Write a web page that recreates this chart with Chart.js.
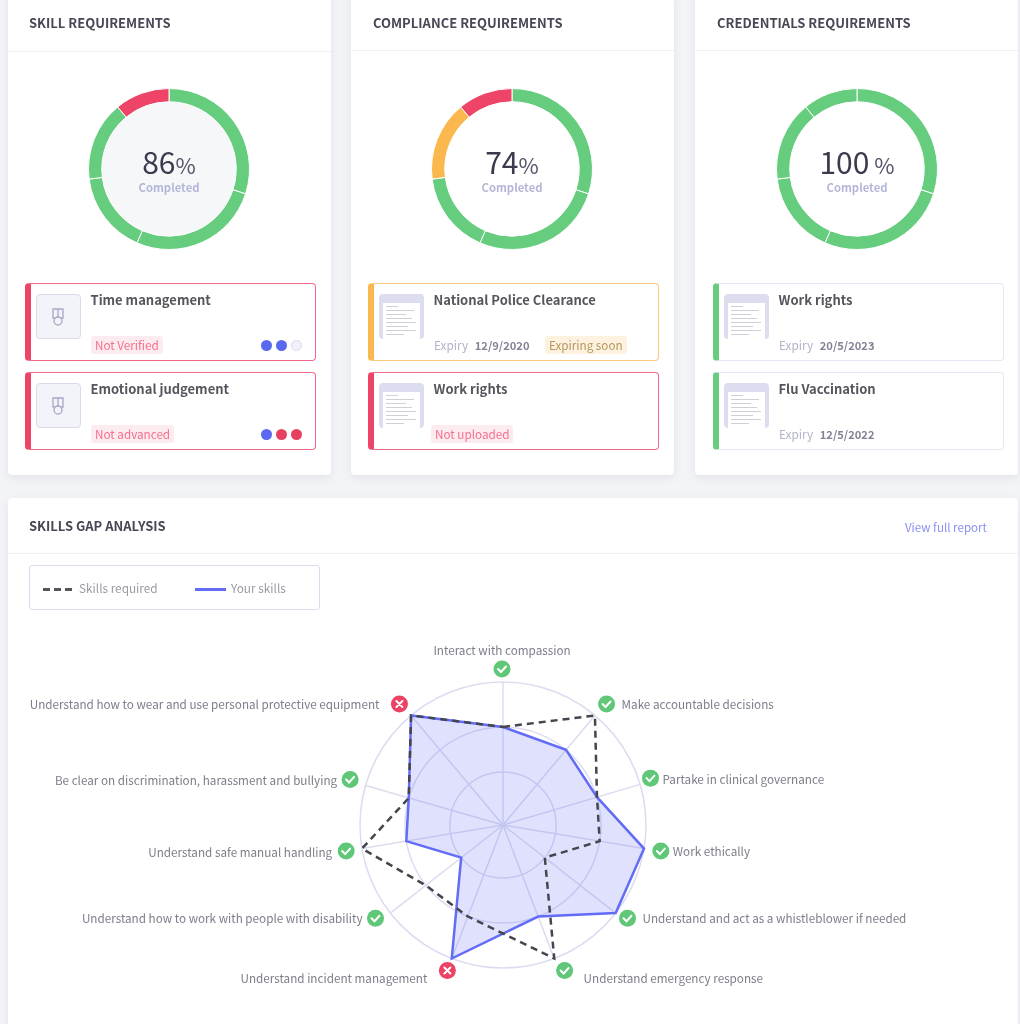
<!DOCTYPE html>
<html>
<head>
<meta charset="utf-8">
<title>Requirements</title>
<script src="https://cdn.jsdelivr.net/npm/chart.js@4"></script>
<style>
    * { box-sizing: border-box; }
    html, body { margin: 0; padding: 0; width: 1020px; height: 1024px; overflow: hidden; background: #f3f4f7; }
    body { font-family: "Noto Sans CJK SC", "Noto Sans", sans-serif; color: #45454f; }
    #page { position: relative; width: 1020px; height: 1024px; filter: blur(0.6px); }

    .card { position: absolute; background: #fff; border-radius: 4px; box-shadow: 0 3px 10px rgba(60, 65, 100, 0.09); }
    .card-title { position: absolute; font-size: 13px; font-weight: 700; color: #474755; line-height: 18px; white-space: nowrap; }
    .card-rule { position: absolute; left: 0; right: 0; height: 1px; background: #eeeef5; }

    .donut-wrap { position: absolute; width: 162px; height: 162px; }
    .donut-wrap canvas { position: absolute; left: 0; top: 0; }
    .donut-face { position: absolute; left: 10px; top: 10px; width: 142px; height: 142px; border-radius: 50%; }
    .donut-value { position: absolute; left: 0; right: 0; top: 55px; text-align: center; line-height: 36px; font-size: 30px; font-weight: 400; color: #3b3b4e; }
    .donut-value span { font-size: 22px; color: #55556a; }
    .donut-label { position: absolute; left: 0; right: 0; top: 91px; text-align: center; line-height: 16px; font-size: 11.3px; font-weight: 700; color: #b4b6d8; }

    .item { position: absolute; width: 291px; height: 78px; background: #fff; border-radius: 4px; border: 1.5px solid; border-left-width: 6px; }
    .item.red { border-color: #f2688a; border-left-color: #ee4468; }
    .item.amber { border-color: #fbc979; border-left-color: #fbb84f; }
    .item.green { border-color: #e6e7f2; border-left-color: #66cc7e; }
    .thumb { position: absolute; left: 5px; top: 10px; width: 45px; height: 45px; border-radius: 4px; background: #f3f4f9; border: 1px solid #d9dbeb; }
    .thumb svg { position: absolute; left: 15px; top: 13px; }
    .doc { background: #dcdeef; border: none; overflow: hidden; }
    .doc .sheet { position: absolute; left: 4px; top: 9px; width: 37px; height: 36px; background: #fff; }
    .doc .sheet i { position: absolute; left: 3px; height: 1px; background: #cfcfd8; }
    .item-title { position: absolute; left: 59.5px; top: 7px; font-size: 13px; font-weight: 700; line-height: 18px; color: #55555d; white-space: nowrap; }
    .badge { position: absolute; top: 52px; height: 18px; padding: 0 4px; border-radius: 3px; font-size: 11.7px; line-height: 18px; white-space: nowrap; }
    .badge.red { background: #fdecef; color: #f56f8d; }
    .badge.amber { background: #fdf2df; color: #b6975f; }
    .expiry { position: absolute; top: 51.5px; left: 60px; font-size: 11.8px; line-height: 18px; color: #b2b3c9; white-space: nowrap; }
    .expiry b { font-size: 11.2px; font-weight: 700; color: #838395; margin-left: 4px; }
    .dot { position: absolute; top: 55.5px; width: 11px; height: 11px; border-radius: 50%; }
    .dot.blue { background: #5a69f0; }
    .dot.red { background: #e8415f; }
    .dot.empty { background: #f1f2f9; border: 1px solid #d9dbeb; }

    .report-link { position: absolute; right: 31px; top: 20px; font-size: 11.6px; line-height: 18px; color: #8a90f2; }
    .legend-box { position: absolute; left: 21px; top: 67px; width: 291px; height: 45px; border: 1px solid #dcdcf0; border-radius: 3px; }
    .legend-text { position: absolute; top: 13px; font-size: 11.8px; line-height: 18px; color: #9a9aa6; }
    .dash { position: absolute; top: 22px; width: 7px; height: 3px; background: #55555d; }
    .solid { position: absolute; top: 22px; left: 165px; width: 31px; height: 3px; background: #636cf5; }
    #gapChart { position: absolute; left: 0; top: 620px; }
</style>
</head>
<body>
<div id="page"></div>
<script>
document.fonts.ready.then(() => {
    const GREEN = '#66cc7e', RED = '#ee4468', AMBER = '#fbb84f';

    // segment sizes are the same on all three rings, only the colours differ
    const ringSegments = [30, 26.5, 16.5, 16, 11];

    const cards = [
        {
            left: 8, titleLeft: 21, ringLeft: 80, itemLeft: 17, title: 'SKILL REQUIREMENTS', percent: '86', face: '#f6f7f9', ruleTop: 51,
            colors: [GREEN, GREEN, GREEN, GREEN, RED],
            items: [
                { tone: 'red', icon: 'medal', title: 'Time management', badge: 'Not Verified', badgeLeft: 60, dots: ['blue', 'blue', 'empty'] },
                { tone: 'red', icon: 'medal', title: 'Emotional judgement', badge: 'Not advanced', badgeLeft: 60, dots: ['blue', 'red', 'red'] }
            ]
        },
        {
            left: 351, titleLeft: 22, ringLeft: 80, itemLeft: 17, title: 'COMPLIANCE REQUIREMENTS', percent: '74', face: '#fff', ruleTop: 50,
            colors: [GREEN, GREEN, GREEN, AMBER, RED],
            items: [
                { tone: 'amber', icon: 'doc', title: 'National Police Clearance', expiry: '12/9/2020', badge: 'Expiring soon', badgeLeft: 171, badgeTone: 'amber' },
                { tone: 'red', icon: 'doc', title: 'Work rights', badge: 'Not uploaded', badgeLeft: 57 }
            ]
        },
        {
            left: 695, titleLeft: 22, ringLeft: 81, itemLeft: 18, title: 'CREDENTIALS REQUIREMENTS', percent: '100', face: '#fff', ruleTop: 50,
            colors: [GREEN, GREEN, GREEN, GREEN, GREEN],
            items: [
                { tone: 'green', icon: 'doc', title: 'Work rights', expiry: '20/5/2023' },
                { tone: 'green', icon: 'doc', title: 'Flu Vaccination', expiry: '12/5/2022' }
            ]
        }
    ];

    const medalIcon = `<svg width="12" height="18" viewBox="0 0 12 18" fill="none" stroke="#a6a8c8" stroke-width="1.3">
        <path d="M1 1h10v9H1zM6 1v9"/><circle cx="6" cy="13" r="4" fill="#f3f4f9"/></svg>`;
    const sheetLines = [[3, 12], [7, 28], [11, 20], [15, 26], [19, 30], [23, 22], [27, 30], [31, 18]]
        .map(([top, width]) => `<i style="top:${top}px;width:${width}px"></i>`).join('');
    const docIcon = `<div class="sheet">${sheetLines}</div>`;

    function itemHtml(item, left, top) {
        const thumb = item.icon === 'medal'
            ? `<div class="thumb">${medalIcon}</div>`
            : `<div class="thumb doc">${docIcon}</div>`;
        const expiry = item.expiry ? `<div class="expiry">Expiry <b>${item.expiry}</b></div>` : '';
        const badge = item.badge
            ? `<div class="badge ${item.badgeTone || 'red'}" style="left:${item.badgeLeft}px">${item.badge}</div>` : '';
        const dots = (item.dots || []).map((kind, i) =>
            `<div class="dot ${kind}" style="left:${230 + i * 15}px"></div>`).join('');
        return `<div class="item ${item.tone}" style="left:${left}px;top:${top}px">${thumb}
            <div class="item-title">${item.title}</div>${expiry}${badge}${dots}</div>`;
    }

    const page = document.getElementById('page');
    page.innerHTML = cards.map((card, i) => `
        <div class="card" style="left:${card.left}px;top:-10px;width:323px;height:485px">
            <div style="position:absolute;left:0;top:10px;right:0;bottom:0">
                <div class="card-title" style="top:14px;left:${card.titleLeft}px">${card.title}</div>
                <div class="card-rule" style="top:${card.ruleTop}px"></div>
                <div class="donut-wrap" style="left:${card.ringLeft}px;top:87.5px">
                    <div class="donut-face" style="background:${card.face}"></div>
                    <canvas id="ring${i}" width="162" height="162"></canvas>
                    <div class="donut-value">${card.percent}<span>${card.percent === '100' ? ' ' : ''}%</span></div>
                    <div class="donut-label">Completed</div>
                </div>
                ${itemHtml(card.items[0], card.itemLeft, 283)}
                ${itemHtml(card.items[1], card.itemLeft, 372)}
            </div>
        </div>`).join('') + `
        <div class="card" style="left:8px;top:498px;width:1010px;height:560px">
            <div class="card-title" style="top:19px;left:21px">SKILLS GAP ANALYSIS</div>
            <div class="report-link">View full report</div>
            <div class="card-rule" style="top:55px"></div>
            <div class="legend-box">
                <div class="dash" style="left:13px"></div><div class="dash" style="left:24px"></div><div class="dash" style="left:35px"></div>
                <div class="legend-text" style="left:49px">Skills required</div>
                <div class="solid"></div>
                <div class="legend-text" style="left:201px">Your skills</div>
            </div>
        </div>
        <canvas id="gapChart" width="1020" height="404"></canvas>`;

    cards.forEach((card, i) => {
        new Chart(document.getElementById(`ring${i}`), {
            type: 'doughnut',
            data: {
                labels: ringSegments.map((_, n) => `Part ${n + 1}`),
                datasets: [{ data: ringSegments, backgroundColor: card.colors, borderColor: '#fff', borderWidth: 1 }]
            },
            options: {
                responsive: false,
                animation: false,
                cutout: '83.5%',
                plugins: { legend: { display: false }, tooltip: { enabled: false } }
            }
        });
    });

    // --- Skills gap radar ---
    // The spokes in the original are not evenly spaced
    const spokeDegrees = [0, 40, 73.5, 99.5, 128, 159, 201, 232, 260.5, 286, 320];
    Chart.RadialLinearScale.prototype.getIndexAngle = function (index) {
        return spokeDegrees[index] * Math.PI / 180;
    };

    // nudge moves the status icon off its spoke, dx/dy place the label relative to the icon
    const skills = [
        { label: 'Interact with compassion', ok: true, align: 'center', nudge: [-1, 2], dx: 0, dy: -18, required: 2, yours: 2 },
        { label: 'Make accountable decisions', ok: true, align: 'left', nudge: [2, 0], dx: 15, dy: 1, required: 3, yours: 2 },
        { label: 'Partake in clinical governance', ok: true, align: 'left', nudge: [-4, -2], dx: 12, dy: 1, required: 2, yours: 2 },
        { label: 'Work ethically', ok: true, align: 'left', nudge: [2, 0], dx: 12, dy: 0, required: 2, yours: 3 },
        { label: 'Understand and act as a whistleblower if needed', ok: true, align: 'left', nudge: [0, -4], dx: 15, dy: 0, required: 1, yours: 3 },
        { label: 'Understand emergency response', ok: true, align: 'left', nudge: [5, -2], dx: 19, dy: 8, required: 3, yours: 2 },
        { label: 'Understand incident management', ok: false, align: 'right', nudge: [1, -2], dx: -20, dy: 8, required: 2, yours: 3 },
        { label: 'Understand how to work with people with disability', ok: true, align: 'right', nudge: [-3, -4], dx: -13, dy: 0, required: 2, yours: 1 },
        { label: 'Understand safe manual handling', ok: true, align: 'right', nudge: [-1, 0], dx: -14, dy: 1, required: 3, yours: 2 },
        { label: 'Be clear on discrimination, harassment and bullying', ok: true, align: 'right', nudge: [-1, -2], dx: -13, dy: 1, required: 2, yours: 2 },
        { label: 'Understand how to wear and use personal protective equipment', ok: false, align: 'right', nudge: [-2, 0], dx: -20, dy: 1, required: 3, yours: 3 }
    ];

    const skillMarkers = {
        id: 'skillMarkers',
        afterDraw(chart) {
            const { ctx } = chart;
            const scale = chart.scales.r;
            skills.forEach((skill, i) => {
                const spoke = scale.getPointPosition(i, 158);
                const x = spoke.x + skill.nudge[0], y = spoke.y + skill.nudge[1];
                ctx.save();
                ctx.beginPath();
                ctx.arc(x, y, 8.5, 0, Math.PI * 2);
                ctx.fillStyle = skill.ok ? '#5fc777' : '#ec4263';
                ctx.fill();
                ctx.strokeStyle = '#fff';
                ctx.lineWidth = 2;
                ctx.lineCap = 'round';
                ctx.beginPath();
                if (skill.ok) {
                    ctx.moveTo(x - 4, y);
                    ctx.lineTo(x - 1, y + 3);
                    ctx.lineTo(x + 4, y - 2.5);
                } else {
                    ctx.moveTo(x - 3, y - 3);
                    ctx.lineTo(x + 3, y + 3);
                    ctx.moveTo(x + 3, y - 3);
                    ctx.lineTo(x - 3, y + 3);
                }
                ctx.stroke();
                ctx.font = '11.7px "Noto Sans CJK SC", "Noto Sans", sans-serif';
                ctx.fillStyle = '#7d7d8b';
                ctx.textAlign = skill.align;
                ctx.textBaseline = 'middle';
                ctx.fillText(skill.label, x + skill.dx, y + skill.dy);
                ctx.restore();
            });
        }
    };

    new Chart(document.getElementById('gapChart'), {
        type: 'radar',
        data: {
            labels: skills.map(s => s.label),
            datasets: [
                {
                    label: 'Skills required',
                    data: skills.map(s => s.required),
                    borderColor: '#45454d',
                    borderWidth: 2.5,
                    borderDash: [7, 5],
                    backgroundColor: 'transparent',
                    fill: false,
                    clip: false,
                    pointRadius: 0,
                    tension: 0
                },
                {
                    label: 'Your skills',
                    data: skills.map(s => s.yours),
                    borderColor: '#636cf5',
                    borderWidth: 2.5,
                    backgroundColor: 'rgba(99, 108, 245, 0.2)',
                    fill: 'start',
                    clip: false,
                    pointRadius: 0,
                    tension: 0
                }
            ]
        },
        options: {
            responsive: false,
            animation: false,
            layout: { padding: { top: 62, bottom: 56, left: 0, right: 14 } },
            plugins: { legend: { display: false }, tooltip: { enabled: false } },
            scales: {
                r: {
                    min: -0.18,
                    max: 3,
                    afterBuildTicks(scale) {
                        scale.ticks = [-0.18, 1, 2, 3].map(value => ({ value }));
                    },
                    ticks: { display: false },
                    pointLabels: { display: false },
                    grid: { circular: true, color: '#dcdcf0', lineWidth: 1.5 },
                    angleLines: { color: '#dcdcf0', lineWidth: 1.5 }
                }
            }
        },
        plugins: [skillMarkers]
    });
});
</script>
</body>
</html>
